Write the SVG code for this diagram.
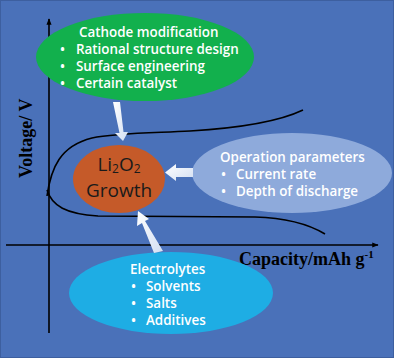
<svg xmlns="http://www.w3.org/2000/svg" width="394" height="358" viewBox="0 0 394 358">
<style>
.lbl{font-family:"Open Sans","Noto Sans",sans-serif;font-size:13.4px;font-weight:600;fill:#ffffff}
.ax{font-family:"Liberation Serif","Times New Roman",serif;font-weight:bold;fill:#000000}
.big{font-family:"Open Sans","Noto Sans",sans-serif;font-size:19px;fill:#1a1a1a}
.curve{fill:none;stroke:#000000;stroke-width:1.6}
.axis{fill:none;stroke:#000000;stroke-width:1.6}
.blk{fill:url(#ag)}
</style>
<defs>
<linearGradient id="ag" x1="0" y1="0" x2="1" y2="1">
<stop offset="0" stop-color="#ffffff"/>
<stop offset="1" stop-color="#d3dff2"/>
</linearGradient>
<marker id="ah" viewBox="0 0 10 10" refX="9" refY="5" markerWidth="4" markerHeight="4" orient="auto">
<path d="M0 1 L10 5 L0 9 Z" fill="#000000"/>
</marker>
</defs>
<rect x="0.5" y="0.5" width="393" height="357" fill="#4a71b9" stroke="#3d5f9f" stroke-width="1"/>

<g id="axes">
<line class="axis" x1="49" y1="333" x2="49" y2="19" marker-end="url(#ah)"/>
<line class="axis" x1="6" y1="245" x2="378" y2="245" marker-end="url(#ah)"/>
<text class="ax" font-size="18" transform="translate(32,178) rotate(-90)">Voltage/ V</text>
<text class="ax" font-size="18" x="239" y="265">Capacity/mAh g<tspan font-size="11" dy="-7">-1</tspan></text>
</g>

<g id="curves">
<path class="curve" d="M47 196 C51 168,60 146,92 138 C115 133,150 133,190 131 C240 128,280 121,303 110"/>
<path class="curve" d="M47 190 C52 206,66 214,98 216 L255 217 C290 218,310 225,325 234"/>
</g>

<g id="cathode">
<ellipse cx="145" cy="57" rx="109" ry="44" fill="#12b04d"/>
<text class="lbl" x="79" y="37">Cathode modification</text>
<text class="lbl" x="60" y="54">•</text><text class="lbl" x="76" y="54">Rational structure design</text>
<text class="lbl" x="60" y="71">•</text><text class="lbl" x="76" y="71">Surface engineering</text>
<text class="lbl" x="60" y="88">•</text><text class="lbl" x="76" y="88">Certain catalyst</text>
</g>

<g id="li2o2">
<ellipse cx="119" cy="179" rx="46" ry="34" fill="#c55a29"/>
<text class="big" text-anchor="middle"><tspan x="119" y="171">Li<tspan font-size="12" dy="2">2</tspan><tspan dy="-2">O</tspan><tspan font-size="12" dy="2">2</tspan></tspan><tspan x="119" y="197">Growth</tspan></text>
</g>

<g id="operation">
<ellipse cx="292" cy="173" rx="100" ry="40" fill="#8eaadb"/>
<text class="lbl" x="220" y="162">Operation parameters</text>
<text class="lbl" x="221" y="179">•</text><text class="lbl" x="236" y="179">Current rate</text>
<text class="lbl" x="221" y="196">•</text><text class="lbl" x="236" y="196">Depth of discharge</text>
</g>

<g id="electrolytes">
<ellipse cx="171" cy="293" rx="102" ry="41" fill="#1eade4"/>
<text class="lbl" x="130" y="274">Electrolytes</text>
<text class="lbl" x="131" y="291">•</text><text class="lbl" x="146" y="291">Solvents</text>
<text class="lbl" x="131" y="308">•</text><text class="lbl" x="146" y="308">Salts</text>
<text class="lbl" x="131" y="325">•</text><text class="lbl" x="146" y="325">Additives</text>
</g>

<g id="connectors">
<polygon class="blk" points="113,102 120,102 123.5,132 128,132 123,141 115,133 119.5,133"/>
<polygon class="blk" points="193,168 176,168 176,164 165,172.5 176,181 176,177 193,177"/>
<polygon class="blk" points="163,251 154,253 142,223 137,226 138,211 149,219 145,221"/>
</g>
</svg>
